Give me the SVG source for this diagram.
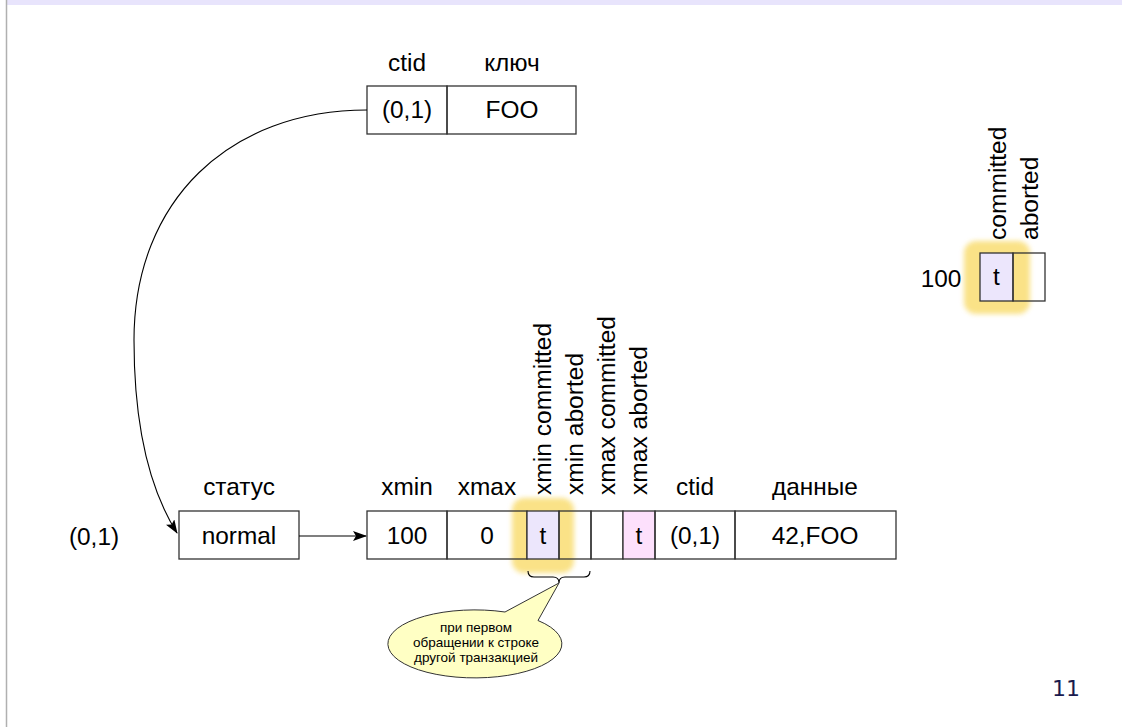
<svg xmlns="http://www.w3.org/2000/svg" width="1122" height="727" viewBox="0 0 1122 727">
  <style>
    text { font-family: "Liberation Sans", Arial, sans-serif; fill: #000; }
    .lbl { font-size: 24.4px; text-anchor: middle; }
    .vlbl { font-size: 24.6px; text-anchor: start; }
    .note { font-size: 13.5px; text-anchor: middle; }
    .cell { fill: none; stroke: #333; stroke-width: 1.3; }
    .flag { fill: #ece6fc; stroke: #333; stroke-width: 1.3; }
    .flag2 { fill: #fde0fc; stroke: #333; stroke-width: 1.3; }
    .edge { fill: none; stroke: #000; stroke-width: 1.1; }
    .glow { fill: #f8d654; opacity: 0.7; filter: url(#soft); }
  </style>
  <defs>
    <marker id="arrow" viewBox="0 0 14 10" refX="13" refY="5" markerWidth="14" markerHeight="10" markerUnits="userSpaceOnUse" orient="auto">
      <path d="M0,0 L14,5 L0,10 L3,5 Z" fill="#000"/>
    </marker>
    <filter id="soft" x="-30%" y="-30%" width="160%" height="160%">
      <feGaussianBlur stdDeviation="2.8"/>
    </filter>
  </defs>

  <!-- slide frame -->
  <rect x="0" y="0" width="1122" height="727" fill="#fff"/>
  <rect x="7" y="0" width="1115" height="5" fill="#e8e4fc"/>
  <line x1="6.5" y1="0" x2="6.5" y2="727" stroke="#b0b0b0" stroke-width="1.5"/>

  <!-- index entry -->
  <g id="index-entry">
    <text class="lbl" x="407" y="71">ctid</text>
    <text class="lbl" x="512" y="71">ключ</text>
    <rect class="cell" x="367" y="86" width="80" height="48"/>
    <rect class="cell" x="447" y="86" width="129" height="48"/>
    <text class="lbl" x="407" y="118">(0,1)</text>
    <text class="lbl" x="512" y="118">FOO</text>
  </g>

  <!-- CLOG: transaction status -->
  <g id="clog">
    <rect class="glow" x="964" y="241" width="66" height="73" rx="12"/>
    <text class="vlbl" transform="translate(1006,240) rotate(-90)">committed</text>
    <text class="vlbl" transform="translate(1038,240) rotate(-90)">aborted</text>
    <rect class="flag" x="980" y="253" width="33" height="48"/>
    <rect class="cell" x="1013" y="253" width="32" height="48"/>
    <text class="lbl" x="996.5" y="285">t</text>
    <text class="lbl" x="941" y="287">100</text>
  </g>

  <!-- line pointer -->
  <g id="line-pointer">
    <text class="lbl" x="94" y="545">(0,1)</text>
    <text class="lbl" x="239" y="495">статус</text>
    <rect class="cell" x="179" y="511" width="120" height="48"/>
    <text class="lbl" x="239" y="544">normal</text>
  </g>

  <!-- heap tuple -->
  <g id="tuple">
    <rect class="glow" x="512" y="498" width="62" height="75" rx="12"/>
    <text class="lbl" x="407" y="495">xmin</text>
    <text class="lbl" x="487" y="495">xmax</text>
    <text class="lbl" x="695" y="495">ctid</text>
    <text class="lbl" x="815" y="495">данные</text>
    <text class="vlbl" transform="translate(551,495) rotate(-90)">xmin committed</text>
    <text class="vlbl" transform="translate(583,495) rotate(-90)">xmin aborted</text>
    <text class="vlbl" transform="translate(615,495) rotate(-90)">xmax committed</text>
    <text class="vlbl" transform="translate(647,495) rotate(-90)">xmax aborted</text>
    <rect class="cell" x="367" y="511" width="80" height="48"/>
    <rect class="cell" x="447" y="511" width="80" height="48"/>
    <rect class="flag" x="527" y="511" width="32" height="48"/>
    <rect class="cell" x="559" y="511" width="32" height="48"/>
    <rect class="cell" x="591" y="511" width="32" height="48"/>
    <rect class="flag2" x="623" y="511" width="32" height="48"/>
    <rect class="cell" x="655" y="511" width="80" height="48"/>
    <rect class="cell" x="735" y="511" width="161" height="48"/>
    <text class="lbl" x="407" y="544">100</text>
    <text class="lbl" x="487" y="544">0</text>
    <text class="lbl" x="543" y="544">t</text>
    <text class="lbl" x="639" y="544">t</text>
    <text class="lbl" x="695" y="544">(0,1)</text>
    <text class="lbl" x="815" y="544">42,FOO</text>
  </g>

  <!-- callout under the xmin hint bits -->
  <g id="callout">
    <path class="edge" d="M528,571 Q528,577 534,577 L553,577 Q559,577 559,583 Q559,577 565,577 L584,577 Q590,577 590,571"/>
    <path d="M538,620.5 L559,583 L505,612 A87,34 0 1 0 538,620.5 Z" fill="#ffffc4" stroke="#333" stroke-width="1"/>
    <text class="note" x="476" y="632">при первом</text>
    <text class="note" x="476" y="647">обращении к строке</text>
    <text class="note" x="476" y="662">другой транзакцией</text>
  </g>

  <!-- connectors -->
  <g id="connectors">
    <path class="edge" d="M367,110 C230,110 134,200 134,340 C134,430 150,490 177,533" marker-end="url(#arrow)"/>
    <path class="edge" d="M299,536 L366,536" marker-end="url(#arrow)"/>
  </g>

  <!-- page number -->
  <text x="1066" y="696" style="font-family: 'DejaVu Sans', sans-serif; font-size: 22px; fill: #1a1a4e; text-anchor: middle;">11</text>
</svg>
